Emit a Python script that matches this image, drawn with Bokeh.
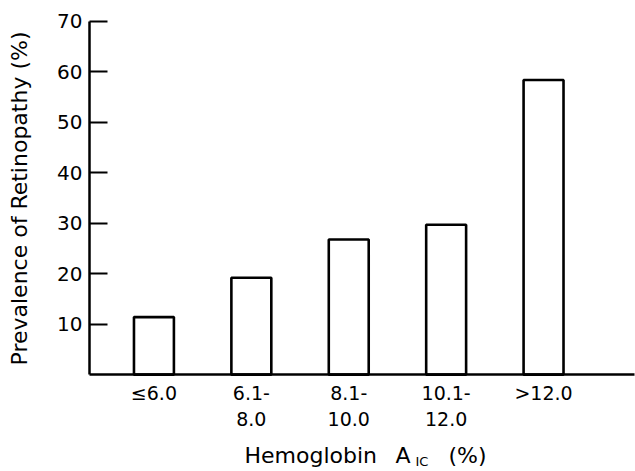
import math
from bokeh.plotting import figure
from bokeh.models import Range1d, FixedTicker, Label
from bokeh.embed import file_html
from bokeh.resources import INLINE

categories = ["\u22646.0", "6.1-\n8.0", "8.1-\n10.0", "10.1-\n12.0", ">12.0"]
prevalence = [11.4, 19.2, 26.8, 29.7, 58.4]
y_ticks = [10, 20, 30, 40, 50, 60, 70]

FONT = "DejaVu Sans"
xpos = list(range(len(categories)))

X_AXIS_START = -0.662   # where the y axis stands (data units)
X_AXIS_END = 4.934

p = figure(width=635, height=471, output_backend="svg", toolbar_location=None,
           x_range=Range1d(-1.5753, 4.944), y_range=Range1d(-19.2, 74.16))
p.min_border_left = 0
p.min_border_right = 0
p.min_border_top = 0
p.min_border_bottom = 0
p.outline_line_color = None
p.grid.visible = False
p.background_fill_color = "white"
p.border_fill_color = "white"

p.vbar(x=xpos, top=prevalence, width=0.41, bottom=0,
       fill_color="white", line_color="black", line_width=2.6)

# x axis, placed at y = 0
xa = p.xaxis[0]
xa.fixed_location = 0
xa.bounds = (X_AXIS_START, X_AXIS_END)
xa.ticker = FixedTicker(ticks=xpos)
xa.major_label_overrides = {i: c for i, c in zip(xpos, categories)}
xa.major_tick_line_color = None
xa.major_tick_out = 0
xa.major_tick_in = 0
xa.minor_tick_line_color = None
xa.axis_line_width = 2.5
xa.axis_line_color = "black"
xa.major_label_text_font = FONT
xa.major_label_text_font_size = "19px"
xa.major_label_text_color = "black"
xa.major_label_text_line_height = 1.22
xa.major_label_standoff = 7

# y axis, placed at the left end of the x axis
ya = p.yaxis[0]
ya.fixed_location = X_AXIS_START
ya.bounds = (0, 70)
ya.ticker = FixedTicker(ticks=y_ticks)
ya.major_tick_in = 18
ya.major_tick_out = 0
ya.major_tick_line_width = 2
ya.major_tick_line_color = "black"
ya.minor_tick_line_color = None
ya.axis_line_width = 2.5
ya.axis_line_color = "black"
ya.major_label_text_font = FONT
ya.major_label_text_font_size = "20px"
ya.major_label_text_color = "black"
ya.major_label_standoff = 7

# axis titles drawn as labels
lab_kw = dict(x_units="screen", y_units="screen", text_font=FONT,
              text_color="black")
p.add_layout(Label(x=19, y=273, text="Prevalence of Retinopathy (%)",
                   angle=math.pi / 2, text_align="center", text_baseline="middle",
                   text_font_size="22px", **lab_kw))
p.add_layout(Label(x=244, y=16, text="Hemoglobin", text_font_size="22px",
                   text_baseline="alphabetic", **lab_kw))
p.add_layout(Label(x=395, y=16, text="A", text_font_size="22px",
                   text_baseline="alphabetic", **lab_kw))
p.add_layout(Label(x=415, y=10, text="IC", text_font_size="13px",
                   text_baseline="alphabetic", **lab_kw))
p.add_layout(Label(x=448, y=16, text="(%)", text_font_size="22px",
                   text_baseline="alphabetic", **lab_kw))

open("out.html", "w").write(file_html(p, INLINE))
